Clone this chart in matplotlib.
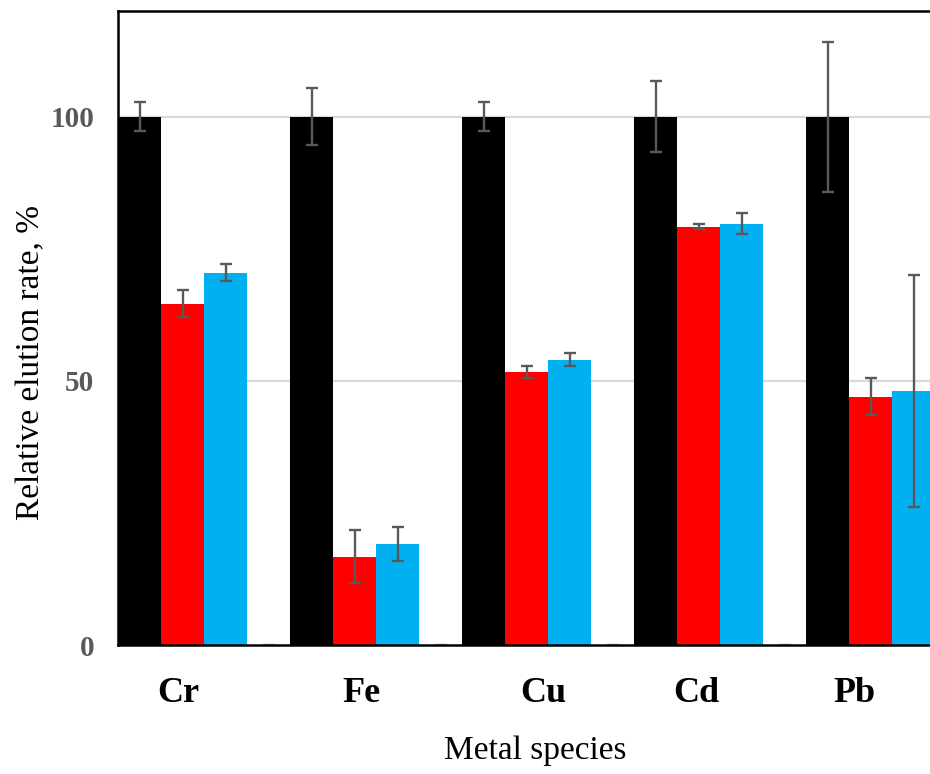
import matplotlib
matplotlib.use("Agg")
import matplotlib.pyplot as plt
import numpy as np

categories = ["Cr", "Fe", "Cu", "Cd", "Pb"]
control = [100, 100, 100, 100, 100]
control_err = [2.7, 5.4, 2.8, 6.7, 14.2]
red_vals = [64.6, 16.7, 51.7, 79.2, 47.0]
red_err = [2.6, 5.0, 1.2, 0.5, 3.5]
blue_vals = [70.5, 19.1, 54.0, 79.7, 48.1]
blue_err = [1.6, 3.2, 1.2, 2.0, 22.0]
blank_vals = [0, 0, 0, 0, 0]
blank_err = [0, 0, 0, 0, 0]
yticks = [0, 50, 100]

W, H = 930, 774
fig = plt.figure(figsize=(W / 100, H / 100), dpi=100)
ax = fig.add_axes([118 / W, (H - 645) / H, 860 / W, 634 / H])

serif = ["Liberation Serif", "DejaVu Serif"]
n = len(categories)
base = np.arange(n) * 4
series = [
    (control, control_err, "#000000", "#595959"),
    (red_vals, red_err, "#FF0000", "#595959"),
    (blue_vals, blue_err, "#00B0F0", "#595959"),
    (blank_vals, blank_err, "#FFFFFF", "#BFBFBF"),
]
for i, (vals, errs, col, ecol) in enumerate(series):
    x = base + i + 0.5
    ax.bar(x, vals, width=1.0, color=col, zorder=2, linewidth=0)
    ax.errorbar(x, vals, yerr=errs, fmt="none", ecolor=ecol, elinewidth=1.7,
                capsize=4.2, capthick=1.7, zorder=3)

ax.set_xlim(0, 20)
ax.set_ylim(0, 120)
ax.set_yticks(yticks)
ax.set_yticklabels([str(v) for v in yticks], fontfamily=serif, fontweight="bold",
                   fontsize=21, color="#595959")
# label offsets (layout) relative to group start
label_offsets = [1.40, 1.67, 1.88, 1.44, 1.12]
ax.set_xticks(base + np.array(label_offsets))
ax.set_xticklabels(categories, fontfamily=serif, fontweight="bold", fontsize=26,
                   color="black")
ax.tick_params(axis="both", length=0)
ax.tick_params(axis="y", pad=17)
ax.tick_params(axis="x", pad=23)

for yv in [50, 100]:
    ax.axhline(yv, color="#D9D9D9", lw=1.6, zorder=1)

for s in ["left", "top", "bottom"]:
    ax.spines[s].set_color("black")
    ax.spines[s].set_linewidth(1.8)
    ax.spines[s].set_zorder(4)
ax.spines["right"].set_visible(False)

fig.text(535 / W, (H - 759) / H, "Metal species", fontfamily=serif, fontsize=24,
         ha="center", va="baseline", color="black")
fig.text(31 / W, (H - 362) / H, "Relative elution rate, %", fontfamily=serif,
         fontsize=24, rotation=90, ha="center", va="center", color="black")

fig.savefig("out.png", dpi=100)
